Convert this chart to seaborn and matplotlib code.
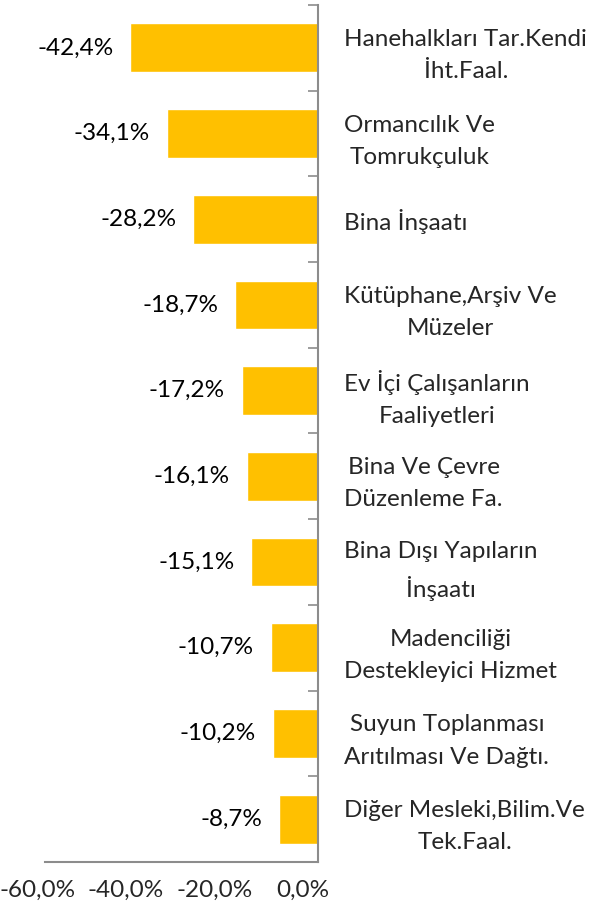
import matplotlib
matplotlib.use('Agg')
import matplotlib.pyplot as plt
import matplotlib.transforms as mtransforms
import seaborn as sns
import pandas as pd

# 데이터
categories = [
    'Hanehalkları Tar.Kendi\nİht.Faal.',
    'Ormancılık Ve\nTomrukçuluk',
    'Bina İnşaatı',
    'Kütüphane,Arşiv Ve\nMüzeler',
    'Ev İçi Çalışanların\nFaaliyetleri',
    'Bina Ve Çevre\nDüzenleme Fa.',
    'Bina Dışı Yapıların\nİnşaatı',
    'Madenciliği\nDestekleyici Hizmet',
    'Suyun Toplanması\nArıtılması Ve Dağtı.',
    'Diğer Mesleki,Bilim.Ve\nTek.Faal.',
]
values = [-42.4, -34.1, -28.2, -18.7, -17.2, -16.1, -15.1, -10.7, -10.2, -8.7]
x_ticks = [-60, -40, -20, 0]

df = pd.DataFrame({'sektor': categories, 'degisim': values})

sns.set_style('white')
plt.rcParams['font.family'] = ['Lato', 'DejaVu Sans']
fs = 17.5
axis_col = '#8c8c8c'

fig = plt.figure(figsize=(6.03, 9.13), dpi=100)
ax = fig.add_axes([45 / 603, 51 / 913, 273 / 603, 857 / 913])

sns.barplot(data=df, y='sektor', x='degisim', orient='h', color='#FFC000',
            width=0.57, saturation=1, ax=ax)

# 막대 값 라벨
labels = [f'{v:.1f}%'.replace('.', ',') for v in values]
ax.bar_label(ax.containers[0], labels=labels, padding=12, fontsize=fs, color='#000000')

ax.set_xlim(-61.6, 0)
ax.set_ylim(9.5, -0.5)
ax.set_xlabel('')
ax.set_ylabel('')

# x축
ax.set_xticks(x_ticks)
ax.set_xticklabels([f'{t:.1f}%'.replace('.', ',') for t in x_ticks], fontsize=fs)
ax.tick_params(axis='x', length=0, pad=13)
offset = mtransforms.ScaledTranslation(-15 / 100, 0, fig.dpi_scale_trans)
for lab in ax.get_xticklabels():
    lab.set_transform(lab.get_transform() + offset)

# y축 (오른쪽, 0 위치)
ax.yaxis.tick_right()
ax.set_yticks(range(len(categories)))
ax.set_yticklabels(categories, fontsize=fs, multialignment='center', linespacing=1.65)
ax.tick_params(axis='y', which='major', length=0, pad=19)
ax.set_yticks([i + 0.5 for i in range(-1, 10)], minor=True)
ax.tick_params(axis='y', which='minor', direction='in', length=7, width=1.2,
               color=axis_col, right=True, left=False)

for s in ['top', 'left']:
    ax.spines[s].set_visible(False)
for s in ['right', 'bottom']:
    ax.spines[s].set_color(axis_col)
    ax.spines[s].set_linewidth(1.5)

fig.savefig('out.png', dpi=100)
